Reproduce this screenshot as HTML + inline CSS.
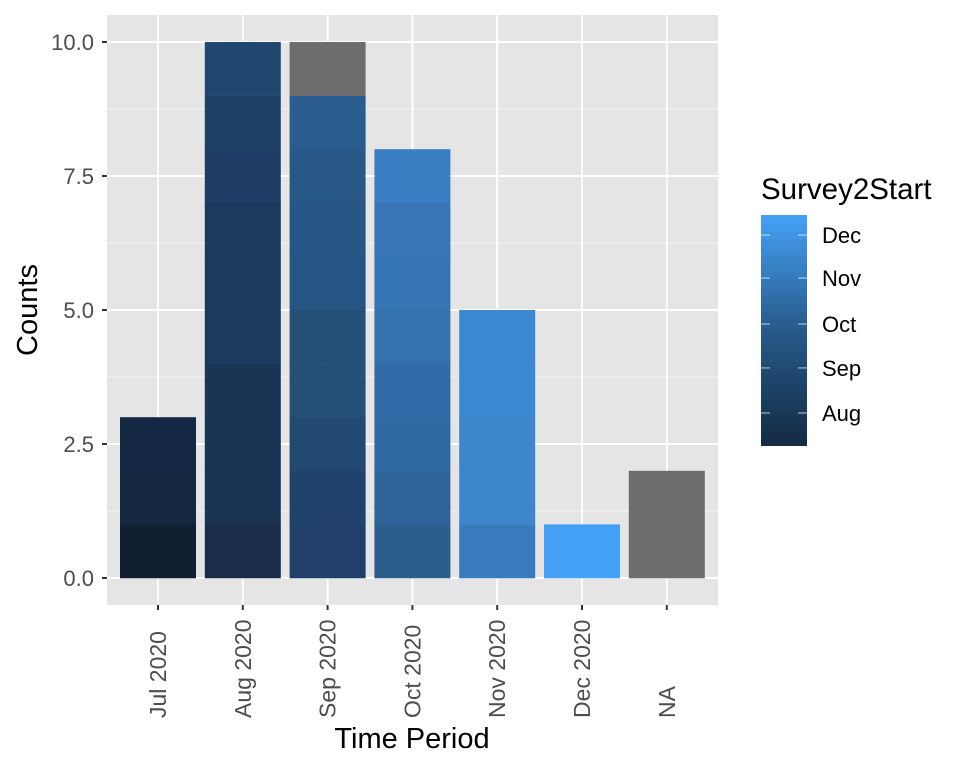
<!DOCTYPE html>
<html><head><meta charset="utf-8"><style>
body{margin:0;background:#fff}
svg text{font-family:"Liberation Sans",Arial,sans-serif}
</style></head><body>
<svg id="c" width="960" height="768" xmlns="http://www.w3.org/2000/svg">
<defs><linearGradient id="lg" x1="0" y1="1" x2="0" y2="0">
<stop offset="0" stop-color="#132B43"/><stop offset="0.5" stop-color="#28598a"/><stop offset="1" stop-color="#45a1f7"/></linearGradient></defs>
</svg>
<script>
const categories=["Jul 2020","Aug 2020","Sep 2020","Oct 2020","Nov 2020","Dec 2020","NA"];
// segment colors per bar, bottom to top, each segment = 1 count
const segJul=["#101f31","#142840","#152843"];
const segAug=["#1a2c4a","#1a3352","#1b3352","#1a3553","#1c3a5e","#1c3a5e","#1c3a5e","#1e3c64","#1e4064","#22476f"];
const segSep=["#20406a","#20426c","#234872","#245078","#245078","#275583","#275686","#285888","#2b5c90","#6d6d6d"];
const segOct=["#2b5d8d","#2e6499","#316aa2","#326ca8","#3571ad","#3675b3","#3775b5","#3a7fc4"];
const segNov=["#377bbd","#3d86cc","#3d86cc","#3b88d0","#3b88d0"];
const segDec=["#44a0f6"];
const segNA=["#6d6d6d","#6d6d6d"];
const series=[segJul,segAug,segSep,segOct,segNov,segDec,segNA];
const yTicks=[0,2.5,5,7.5,10];
const yTickLabels=["0.0","2.5","5.0","7.5","10.0"];
const legendBreaks=["Aug","Sep","Oct","Nov","Dec"];
const legendPos=[0.143,0.338,0.528,0.727,0.913];

const svg=document.getElementById('c');const NS="http://www.w3.org/2000/svg";
function mk(t,a,p){const e=document.createElementNS(NS,t);for(const k in a)e.setAttribute(k,a[k]);(p||svg).appendChild(e);return e;}
const PX0=107,PX1=718,PY0=15,PY1=605;
const y=v=>578-v*53.6;
const xc=i=>158+i*84.8;
const bw=76;
const panel=mk('rect',{x:PX0,y:PY0,width:PX1-PX0,height:PY1-PY0,fill:'#e5e5e5'});

for(let i=0;i<yTicks.length-1;i++){const v=(yTicks[i]+yTicks[i+1])/2;
 const g=mk('line',{x1:PX0,x2:PX1,y1:y(v),y2:y(v),stroke:'#f2f2f2','stroke-width':1});
 }
yTicks.forEach((v,i)=>{
 const g=mk('line',{x1:PX0,x2:PX1,y1:y(v),y2:y(v),stroke:'#fff','stroke-width':2});
 
 const t=mk('line',{x1:PX0-5,x2:PX0,y1:y(v),y2:y(v),stroke:'#333','stroke-width':2});
 
 const l=mk('text',{x:94,y:y(v)+8,'text-anchor':'end','font-size':22,fill:'#4d4d4d'});l.textContent=yTickLabels[i];
 
});
categories.forEach((c,i)=>{
 const g=mk('line',{x1:xc(i),x2:xc(i),y1:PY0,y2:PY1,stroke:'#fff','stroke-width':2});
 
 series[i].forEach((col,j)=>{
  const r=mk('rect',{x:xc(i)-bw/2,y:y(j+1),width:bw,height:y(j)-y(j+1)+0.3,fill:col});
  
 });
 const t=mk('line',{x1:xc(i),x2:xc(i),y1:PY1,y2:PY1+5,stroke:'#333','stroke-width':2});
 
 const l=mk('text',{x:0,y:0,'text-anchor':'start','font-size':23,fill:'#4d4d4d',transform:`translate(${xc(i)+8},718) rotate(-90)`});l.textContent=c;
 
});
const yt=mk('text',{x:0,y:0,'text-anchor':'middle','font-size':29,fill:'#000',transform:'translate(37,310) rotate(-90)'});yt.textContent='Counts';

const xt=mk('text',{x:412,y:748,'text-anchor':'middle','font-size':29,fill:'#000'});xt.textContent='Time Period';

const lt=mk('text',{x:761,y:199,'font-size':29.5,fill:'#000'});lt.textContent='Survey2Start';

const LB0=215,LB1=446;
const lb=mk('rect',{x:761,y:LB0,width:46,height:LB1-LB0,fill:'url(#lg)'});

legendBreaks.forEach((b,i)=>{const yy=LB1-legendPos[i]*(LB1-LB0);
 const a=mk('line',{x1:761,x2:770,y1:yy,y2:yy,stroke:'#fff','stroke-opacity':0.7});
 const b2=mk('line',{x1:798,x2:807,y1:yy,y2:yy,stroke:'#fff','stroke-opacity':0.7});
 const l=mk('text',{x:822,y:yy+8,'font-size':22,fill:'#000'});l.textContent=b;
 
});
</script>
</body></html>
